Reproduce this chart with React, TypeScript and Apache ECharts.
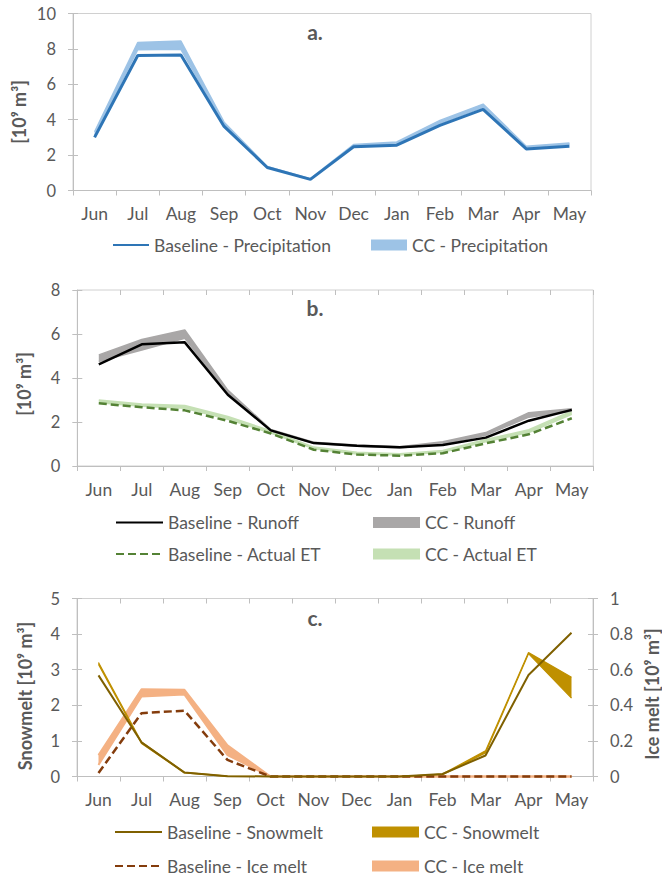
import React, { useEffect, useRef } from 'react';
import * as echarts from 'echarts';

const months = ['Jun', 'Jul', 'Aug', 'Sep', 'Oct', 'Nov', 'Dec', 'Jan', 'Feb', 'Mar', 'Apr', 'May'];

// Panel a – precipitation [10^9 m3]
const precipBaseline = [3.0, 7.63, 7.65, 3.62, 1.3, 0.63, 2.47, 2.56, 3.68, 4.58, 2.35, 2.5];
const precipCCLow = [3.1, 7.95, 7.98, 3.72, 1.32, 0.64, 2.52, 2.64, 3.78, 4.7, 2.43, 2.6];
const precipCCHigh = [3.32, 8.36, 8.44, 3.86, 1.36, 0.67, 2.6, 2.74, 3.96, 4.88, 2.5, 2.68];

// Panel b – runoff and actual ET [10^9 m3]
const runoffBaseline = [4.62, 5.53, 5.62, 3.24, 1.62, 1.04, 0.92, 0.85, 0.95, 1.29, 2.06, 2.55];
const runoffCCLow = [4.75, 5.27, 5.8, 3.3, 1.6, 1.03, 0.9, 0.82, 1.0, 1.4, 2.22, 2.5];
const runoffCCHigh = [5.05, 5.75, 6.18, 3.45, 1.66, 1.08, 0.95, 0.88, 1.1, 1.52, 2.42, 2.6];
const etBaseline = [2.85, 2.67, 2.53, 2.05, 1.48, 0.74, 0.52, 0.47, 0.58, 1.03, 1.44, 2.17];
const etCCLow = [2.88, 2.72, 2.62, 2.12, 1.5, 0.78, 0.55, 0.5, 0.62, 1.1, 1.52, 2.35];
const etCCHigh = [3.0, 2.82, 2.75, 2.25, 1.6, 0.86, 0.62, 0.56, 0.7, 1.2, 1.65, 2.5];

// Panel c – snowmelt (left axis) and ice melt (right axis) [10^9 m3]
const snowBaseline = [2.84, 0.96, 0.11, 0.01, 0, 0, 0, 0, 0.07, 0.59, 2.85, 4.04];
const snowCCLow = [3.15, 0.93, 0.1, 0, 0, 0, 0, 0, 0.05, 0.66, 3.45, 2.2];
const snowCCHigh = [3.2, 0.97, 0.12, 0.01, 0, 0, 0, 0, 0.07, 0.72, 3.48, 2.79];
const iceBaseline = [0.02, 0.356, 0.37, 0.093, 0, 0, 0, 0, 0, 0, 0, 0];
const iceCCLow = [0.065, 0.45, 0.46, 0.12, 0, 0, 0, 0, 0, 0, 0, 0];
const iceCCHigh = [0.12, 0.49, 0.487, 0.175, 0, 0, 0, 0, 0, 0, 0, 0];

const FONT = 'Lato, "Open Sans", sans-serif';
const TXT = '#595959';
const AX = '#BFBFBF';
const FS = 17.5;
const FSY = 16.5;

const xMain = (gridIndex: number, tickInside = false) => ({
  type: 'category', gridIndex, data: months, boundaryGap: true,
  axisLine: { show: true, onZero: false, lineStyle: { color: AX, width: 1 } },
  axisTick: { show: true, length: 5, inside: tickInside, lineStyle: { color: AX } },
  axisLabel: { color: TXT, fontSize: FS, fontFamily: FONT, margin: 14, interval: 0 },
  splitLine: { show: false },
});
const xGhost = (gridIndex: number) => ({
  type: 'category', gridIndex, data: months, boundaryGap: true,
  axisLine: { show: false, onZero: false },
  axisTick: { show: true, length: 5, inside: true, lineStyle: { color: AX } },
  axisLabel: { show: false }, splitLine: { show: false },
});
const yMain = (gridIndex: number, max: number, interval: number, position = 'left') => ({
  type: 'value', gridIndex, min: 0, max, interval, position,
  axisLine: { show: true, lineStyle: { color: AX, width: 1 } },
  axisTick: { show: true, length: 5, lineStyle: { color: AX } },
  axisLabel: { color: TXT, fontSize: FSY, fontFamily: FONT, margin: 17 },
  splitLine: { show: false },
});
const yGhost = (gridIndex: number, max: number, interval: number, position = 'left') => ({
  type: 'value', gridIndex, min: 0, max, interval, position,
  axisLine: { show: false },
  axisTick: { show: true, length: 5, inside: true, lineStyle: { color: AX } },
  axisLabel: { show: false }, splitLine: { show: false },
});

const band = (name: string, low: number[], high: number[], color: string, xi: number, yi: number, width: number) => [
  {
    name: name + ' (low)', type: 'line', xAxisIndex: xi, yAxisIndex: yi, stack: name, data: low,
    symbol: 'none', color, lineStyle: { color, width }, silent: true, clip: false, z: 2,
  },
  {
    name, type: 'line', xAxisIndex: xi, yAxisIndex: yi, stack: name,
    data: high.map((h, i) => +(h - low[i]).toFixed(4)),
    symbol: 'none', color, lineStyle: { color, width }, areaStyle: { color, opacity: 1 }, silent: true, clip: false, z: 2,
  },
];

const line = (name: string, data: number[], color: string, xi: number, yi: number, width: number, dashed = false) => ({
  name, type: 'line', xAxisIndex: xi, yAxisIndex: yi, data, symbol: 'none', color,
  lineStyle: { color, width, type: dashed ? [8, 4] : 'solid' }, silent: true, clip: false, z: 3,
});

const leg = (name: string, left: number, top: number, itemWidth: number, rectColor?: string) => ({
  data: [rectColor ? { name, icon: 'rect', itemStyle: { color: rectColor, borderWidth: 0 } } : { name, itemStyle: { opacity: 0 } }],
  left, top, itemWidth, itemHeight: 11, padding: 0, selectedMode: false,
  textStyle: { color: TXT, fontSize: FS, fontFamily: FONT },
});

const vTitle = (text: string, x: number, y: number) => ({
  type: 'text', x, y, rotation: Math.PI / 2,
  style: { text, fill: TXT, fontSize: 18, fontWeight: 'bold', fontFamily: FONT, align: 'center', verticalAlign: 'middle' },
});
const pLabel = (text: string, x: number, y: number) => ({
  type: 'text', x, y,
  style: { text, fill: TXT, fontSize: 21, fontWeight: 'bold', fontFamily: FONT, align: 'center', verticalAlign: 'middle' },
});

function buildOption() {
  const gridStyle = { show: true, borderColor: '#D0D0D0', borderWidth: 1, backgroundColor: 'transparent' };
  return {
    animation: false,
    backgroundColor: '#ffffff',
    grid: [
      { left: 73, top: 13.5, width: 518, height: 177, ...gridStyle },
      { left: 77.3, top: 290, width: 516, height: 176, ...gridStyle },
      { left: 77, top: 598.5, width: 516, height: 178, ...gridStyle },
    ],
    xAxis: [xMain(0), xMain(1), xMain(2), xGhost(1), xGhost(2)],
    yAxis: [
      yMain(0, 10, 2), yMain(1, 8, 2), yMain(2, 5, 1, 'left'), yMain(2, 1, 0.2, 'right'),
      yGhost(0, 10, 2), yGhost(1, 8, 2), yGhost(2, 5, 1, 'left'), yGhost(2, 1, 0.2, 'right'),
    ],
    legend: [
      leg('Baseline - Precipitation', 112, 236, 36),
      leg('CC - Precipitation', 371, 236, 36, '#9DC3E6'),
      leg('Baseline - Runoff', 115, 513.5, 47),
      leg('CC - Runoff', 373, 513.5, 47, '#A9A7A7'),
      leg('Baseline - Actual ET', 115, 545, 47),
      leg('CC - Actual ET', 373, 545, 47, '#C5E0B4'),
      leg('Baseline - Snowmelt', 114, 823, 47),
      leg('CC - Snowmelt', 372, 823, 47, '#BF9000'),
      leg('Baseline - Ice melt', 114, 857, 47),
      leg('CC - Ice melt', 372, 857, 47, '#F4B183'),
    ],
    graphic: [
      vTitle('[10⁹ m³]', 19, 112),
      vTitle('[10⁹ m³]', 24, 384),
      vTitle('Snowmelt [10⁹ m³]', 25, 696),
      vTitle('Ice melt [10⁹ m³]', 651.5, 694),
      pLabel('a.', 315, 31),
      pLabel('b.', 315, 307.5),
      pLabel('c.', 315, 617.5),
    ],
    series: [
      ...band('CC - Precipitation', precipCCLow, precipCCHigh, '#9DC3E6', 0, 0, 1.5),
      line('Baseline - Precipitation', precipBaseline, '#2E75B6', 0, 0, 3),

      ...band('CC - Actual ET', etCCLow, etCCHigh, '#C5E0B4', 1, 1, 1.5),
      ...band('CC - Runoff', runoffCCLow, runoffCCHigh, '#A9A7A7', 1, 1, 1.5),
      line('Baseline - Actual ET', etBaseline, '#548235', 1, 1, 2.5, true),
      line('Baseline - Runoff', runoffBaseline, '#000000', 1, 1, 2.5),

      ...band('CC - Ice melt', iceCCLow, iceCCHigh, '#F4B183', 2, 3, 2),
      line('Baseline - Ice melt', iceBaseline, '#843C0C', 2, 3, 2.5, true),
      ...band('CC - Snowmelt', snowCCLow, snowCCHigh, '#BF9000', 2, 2, 1.2),
      line('Baseline - Snowmelt', snowBaseline, '#7F6000', 2, 2, 2),
    ],
  };
}

export default function App() {
  const ref = useRef<HTMLDivElement>(null);
  useEffect(() => {
    if (!ref.current) return;
    const chart = echarts.init(ref.current, undefined, { renderer: 'svg' });
    chart.setOption(buildOption() as any);
    return () => chart.dispose();
  }, []);
  return (
    <div
      ref={ref}
      style={{ position: 'absolute', left: 0, top: 0, width: 662, height: 877, background: '#ffffff' }}
    />
  );
}
